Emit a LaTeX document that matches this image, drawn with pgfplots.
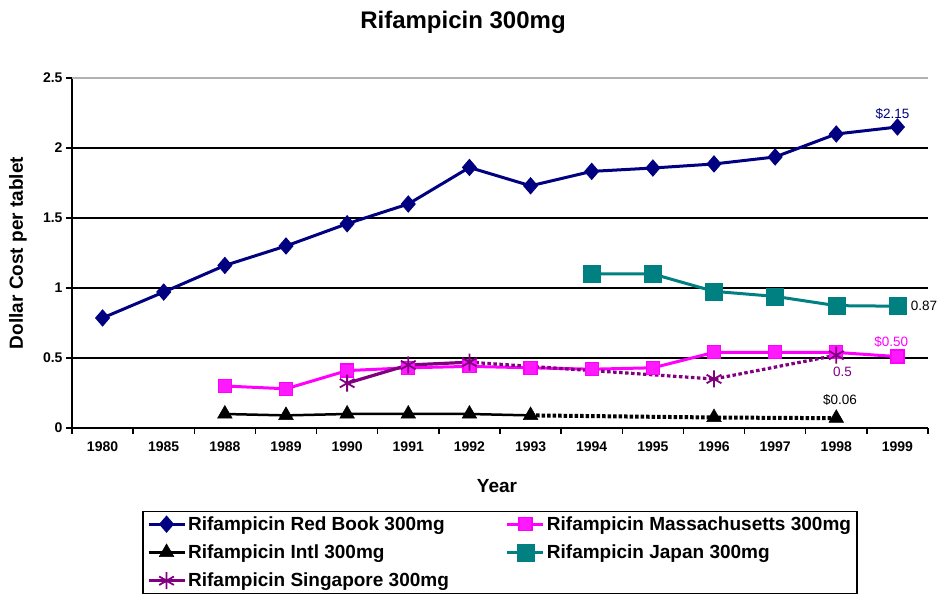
\documentclass[border=0pt]{standalone}
\usepackage{pgfplots}
\pgfplotsset{compat=1.18}
\usepackage{fontspec}
\setmainfont{Liberation Sans}
\definecolor{rbnavy}{RGB}{0,0,128}
\definecolor{massmag}{RGB}{255,0,255}
\definecolor{jteal}{RGB}{0,128,128}
\definecolor{spurple}{RGB}{128,0,128}
\begin{document}
\begin{tikzpicture}
\begin{axis}[
  at={(0,0)}, anchor=south west,
  scale only axis, width=856pt, height=350pt,
  xmin=-0.5, xmax=13.5, ymin=0, ymax=2.5,
  axis x line*=bottom, axis y line*=left,
  xtick={-0.5,0.5,...,13.5},
  x tick label as interval,
  xticklabels={1980,1985,1988,1989,1990,1991,1992,1993,1994,1995,1996,1997,1998,1999},
  ytick={0,0.5,1,1.5,2,2.5},
  yticklabels={0,0.5,1,1.5,2,2.5},
  ymajorgrids, grid style={black, line width=1.3pt},
  tick align=outside, major tick length=6pt,
  tick style={black, line width=1.5pt},
  axis line style={black, line width=1.8pt},
  tick label style={font=\fontsize{14}{16}\selectfont\bfseries},
  xticklabel style={yshift=-4pt},
  legend columns=2,
  legend cell align=left,
  legend style={at={(0.5,-0.237)}, anchor=north, draw=black, line width=1.2pt,
    font=\fontsize{19}{22}\selectfont\bfseries, row sep=9pt,
    inner xsep=4pt, inner ysep=3pt,
    /tikz/every even column/.append style={column sep=55pt}},
  legend image code/.code={\draw[mark repeat=2,mark phase=2,#1] plot coordinates {(0pt,0pt) (18pt,0pt) (36pt,0pt)};},
  clip=false,
]
% Red Book
\addplot[rbnavy, line width=3pt, mark=diamond*, mark size=8pt, mark options={solid, fill=rbnavy, line width=1pt, xscale=1.15}]
 coordinates {(0,0.786) (1,0.971) (2,1.161) (3,1.30) (4,1.459) (5,1.60) (6,1.861) (7,1.73) (8,1.833) (9,1.857) (10,1.886) (11,1.936) (12,2.10) (13,2.15)};
\addlegendentry{Rifampicin Red Book 300mg}
% Massachusetts
\addplot[massmag, line width=3pt, mark=square*, mark size=6.5pt, mark options={solid, fill=massmag!90!white, draw=massmag, line width=1.2pt}]
 coordinates {(2,0.30) (3,0.28) (4,0.41) (5,0.43) (6,0.44) (7,0.43) (8,0.42) (9,0.43) (10,0.54) (11,0.54) (12,0.54) (13,0.51)};
\addlegendentry{Rifampicin Massachusetts 300mg}
% Intl
\addplot[black, line width=2.5pt, mark=triangle*, mark size=8.5pt, mark options={solid, fill=black, line width=0.5pt}]
 coordinates {(2,0.10) (3,0.09) (4,0.10) (5,0.10) (6,0.10) (7,0.09)};
\addlegendentry{Rifampicin Intl 300mg}
% Japan
\addplot[jteal, line width=3pt, mark=square*, mark size=8.5pt, mark options={solid, fill=jteal, draw=jteal, line width=0.5pt}]
 coordinates {(8,1.10) (9,1.10) (10,0.976) (11,0.94) (12,0.874) (13,0.87)};
\addlegendentry{Rifampicin Japan 300mg}
% Singapore
\addplot[spurple, line width=3.2pt, mark=asterisk, mark size=8.5pt, mark options={solid, line width=1.8pt}]
 coordinates {(4,0.32) (5,0.45) (6,0.47)};
\addlegendentry{Rifampicin Singapore 300mg}
% dotted extensions
\addplot[forget plot, black, line width=4pt, dash pattern=on 3.5pt off 2pt, mark=triangle*, mark size=8.5pt, mark options={solid, fill=black, line width=0.5pt}, mark indices={2,3}]
 coordinates {(7,0.09) (10,0.075) (12,0.07)};
\addplot[forget plot, spurple, line width=3.2pt, dash pattern=on 3.5pt off 2.5pt, mark=asterisk, mark size=8.5pt, mark options={solid, line width=1.8pt}, mark indices={2,3}]
 coordinates {(6,0.47) (10,0.35) (12,0.52)};
% top border line gray
\draw[gray!60, line width=1.2pt] (rel axis cs:0,1) -- (rel axis cs:1,1);
% data labels
\node[rbnavy, font=\fontsize{13.5}{15}\selectfont] at (axis cs:12.92,2.24) {\$2.15};
\node[black, anchor=west, font=\fontsize{13.5}{15}\selectfont] at (axis cs:13.16,0.87) {0.87};
\node[massmag, font=\fontsize{13.5}{15}\selectfont] at (axis cs:12.9,0.614) {\$0.50};
\node[spurple, font=\fontsize{13.5}{15}\selectfont] at (axis cs:12.1,0.40) {0.5};
\node[black, font=\fontsize{13.5}{15}\selectfont] at (axis cs:12.06,0.20) {\$0.06};
\end{axis}
\node[font=\fontsize{24}{27}\selectfont\bfseries] at (391pt,406pt) {Rifampicin 300mg};
\node[rotate=90, font=\fontsize{19}{22}\selectfont\bfseries] at (-54pt,175pt) {Dollar Cost per tablet};
\node[font=\fontsize{19}{22}\selectfont\bfseries] at (425pt,-58pt) {Year};
\pgfresetboundingbox
\useasboundingbox (-72pt,-171pt) rectangle (865pt,428pt);
\end{tikzpicture}
\end{document}
